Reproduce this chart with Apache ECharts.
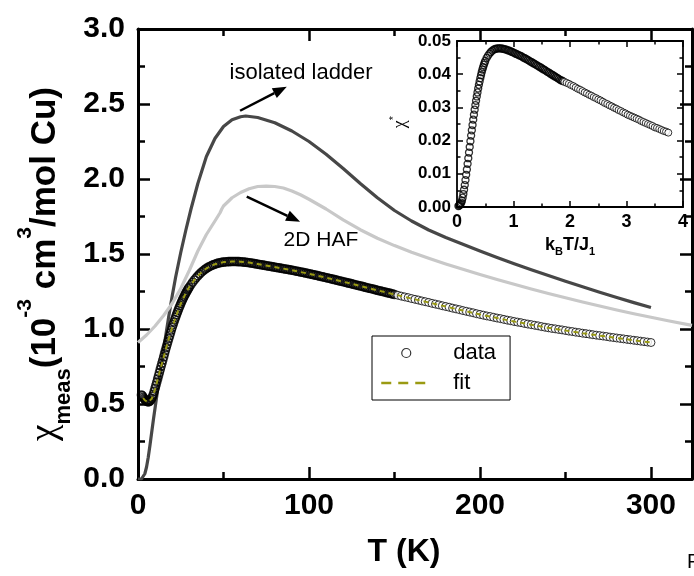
<!DOCTYPE html>
<html><head><meta charset="utf-8">
<script src="https://cdn.jsdelivr.net/npm/echarts@6/dist/echarts.min.js"></script>
<style>html,body{margin:0;padding:0;background:#fff}#c{width:694px;height:576px}</style>
</head><body><div id="c"></div>
<script>
const FONT = "'Liberation Sans', Arial, sans-serif";

// ---- main panel: measured susceptibility (10^-3 cm^3/mol Cu) vs T (K) ----
const dataT = [
  2,2.5,3,3.5,4,4.5,5,5.5,6,6.5,7,7.5,8,8.5,9,9.5,10,10.5,11,11.5,
  12,12.5,13,13.5,14,14.5,15,15.5,16,16.5,17,17.5,18,18.5,19,19.5,20,20.5,21,21.5,
  22,22.5,23,23.5,24,24.5,25,25.5,26,26.5,27,27.5,28,28.5,29,29.5,30,
  31,32,33,34,35,36,37,38,39,40,
  41,42,43,44,45,46,47,48,49,50,
  51,52,53,54,55,56,57,58,59,60,
  61,62,63,64,65,66,67,68,69,70,
  71,72,73,74,75,76,77,78,79,80,
  81,82,83,84,85,86,87,88,89,90,
  91,92,93,94,95,96,97,98,99,100,
  101,102,103,104,105,106,107,108,109,110,
  111,112,113,114,115,116,117,118,119,120,
  121,122,123,124,125,126,127,128,129,130,
  131,132,133,134,135,136,137,138,139,140,
  141,142,143,144,145,146,147,148,149,150,
  152,154,156,158,160,162,164,166,168,170,
  172,174,176,178,180,182,184,186,188,190,
  192,194,196,198,200,202,204,206,208,210,
  212,214,216,218,220,222,224,226,228,230,
  232,234,236,238,240,242,244,246,248,250,
  252,254,256,258,260,262,264,266,268,270,
  272,274,276,278,280,282,284,286,288,290,
  292,294,296,298,300
];
const dataChi = [
  0.56,0.555,0.545,0.537,0.53,0.524,0.519,0.516,0.515,0.516,0.52,0.527,0.537,0.55,0.565,0.585,0.605,0.625,0.646,0.667,
  0.688,0.709,0.73,0.751,0.772,0.793,0.814,0.835,0.856,0.876,0.896,0.916,0.936,0.955,0.974,0.993,1.011,1.029,1.046,1.063,
  1.079,1.095,1.11,1.125,1.14,1.154,1.168,1.181,1.194,1.206,1.218,1.229,1.24,1.25,1.26,1.27,1.279,
  1.296,1.312,1.327,1.341,1.354,1.366,1.377,1.387,1.396,1.404,
  1.411,1.417,1.423,1.428,1.432,1.436,1.439,1.442,1.444,1.446,
  1.447,1.448,1.449,1.449,1.45,1.45,1.45,1.449,1.449,1.448,
  1.447,1.446,1.445,1.443,1.442,1.44,1.438,1.436,1.434,1.432,
  1.43,1.428,1.426,1.424,1.422,1.42,1.418,1.416,1.414,1.412,
  1.41,1.408,1.406,1.404,1.402,1.4,1.398,1.396,1.394,1.392,
  1.39,1.387,1.385,1.383,1.38,1.378,1.376,1.373,1.371,1.368,
  1.366,1.363,1.361,1.358,1.356,1.353,1.35,1.348,1.345,1.342,
  1.34,1.337,1.334,1.331,1.329,1.326,1.323,1.32,1.318,1.315,
  1.312,1.309,1.306,1.304,1.301,1.298,1.295,1.292,1.289,1.287,
  1.284,1.281,1.278,1.275,1.272,1.27,1.267,1.264,1.261,1.258,
  1.255,1.253,1.25,1.247,1.244,1.241,1.239,1.236,1.233,1.23,
  1.225,1.219,1.214,1.209,1.203,1.198,1.193,1.187,1.182,1.177,
  1.171,1.166,1.161,1.155,1.15,1.145,1.139,1.134,1.129,1.123,
  1.118,1.113,1.108,1.102,1.097,1.092,1.087,1.083,1.078,1.073,
  1.069,1.064,1.059,1.055,1.05,1.046,1.042,1.037,1.033,1.029,
  1.025,1.021,1.016,1.012,1.008,1.004,1.001,0.997,0.994,0.99,
  0.986,0.983,0.979,0.976,0.972,0.969,0.966,0.962,0.959,0.956,
  0.953,0.95,0.946,0.943,0.94,0.937,0.934,0.931,0.928,0.925,
  0.922,0.919,0.916,0.913,0.91
];
const denseLimitT = 150;   // measurement is dense up to here, sparse above
const fitT = [3,4,5,6,7,8,9,10,11,12,13,14,15,16,17,18,19,20,22,24,26,28,30,33,36,40,45,50,55,60,65,70,
  80,90,100,110,120,130,140,150,160,170,180,190,200,210,220,230,240,250,260,270,280,290,300];
const fitChi = [0.54,0.525,0.515,0.512,0.518,0.535,0.563,0.6,0.642,0.685,0.728,0.77,0.812,0.854,0.895,0.935,0.973,1.01,
  1.078,1.139,1.193,1.24,1.28,1.327,1.366,1.404,1.432,1.446,1.45,1.449,1.443,1.433,
  1.413,1.392,1.368,1.342,1.315,1.287,1.258,1.23,1.203,1.177,1.15,1.123,1.097,1.073,1.05,1.029,1.008,0.99,0.972,0.956,0.94,0.925,0.91];
const ladderT = [0,2,3,4,5,6,7,8,9,10,12,14,16,18,20,22,25,28,31,35,40,45,50,55,60,63,70,80,90,100,
  110,120,130,140,150,160,170,180,190,200,210,220,230,240,250,260,270,280,290,300];
const ladderChi = [0,0,0.01,0.035,0.08,0.145,0.225,0.31,0.395,0.475,0.635,0.79,0.94,1.085,1.22,1.345,1.51,1.66,1.80,1.97,
  2.15,2.27,2.35,2.395,2.415,2.42,2.41,2.375,2.32,2.25,2.165,2.07,1.97,1.875,1.79,1.72,1.66,1.61,1.565,1.52,
  1.477,1.435,1.395,1.356,1.318,1.281,1.245,1.21,1.176,1.143];
const hafT = [0,5,10,15,20,25,30,35,40,45,48,49,50,55,60,65,70,75,80,85,90,95,100,110,120,130,140,150,160,170,
  180,190,200,210,220,230,240,250,260,270,280,290,300,310,324];
const hafChi = [0.91,0.96,1.02,1.09,1.17,1.27,1.39,1.52,1.63,1.72,1.775,1.80,1.82,1.875,1.91,1.935,1.95,1.953,1.95,1.94,
  1.92,1.895,1.865,1.80,1.728,1.662,1.605,1.556,1.512,1.472,1.434,1.398,1.363,1.33,1.298,1.267,1.237,1.208,1.18,1.153,
  1.127,1.102,1.078,1.055,1.024];

// ---- inset: chi* vs kB T / J1 ----
const insetX = [
  0.025,0.0375,0.05,0.0625,0.075,0.0875,0.1,0.1125,0.125,0.1375,0.15,0.1625,0.175,0.1875,0.2,0.2125,0.225,0.2375,0.25,0.2625,
  0.275,0.2875,0.3,0.3125,0.325,0.3375,0.35,0.3625,0.375,0.3875,0.4,0.4125,0.425,0.4375,0.45,0.4625,0.475,0.4875,0.5,
  0.525,0.55,0.575,0.6,0.625,0.65,0.675,0.7,0.725,0.75,0.775,0.8,0.825,0.85,0.875,0.9,0.925,0.95,0.975,1.0,
  1.025,1.05,1.075,1.1,1.125,1.15,1.175,1.2,1.225,1.25,1.275,1.3,1.325,1.35,1.375,1.4,1.425,1.45,1.475,1.5,
  1.525,1.55,1.575,1.6,1.625,1.65,1.675,1.7,1.725,1.75,1.775,1.8,1.825,1.85,1.875,
  1.9,1.94,1.98,2.02,2.06,2.1,2.14,2.18,2.22,2.26,2.3,2.34,2.38,2.42,2.46,2.5,2.54,2.58,2.62,2.66,
  2.7,2.74,2.78,2.82,2.86,2.9,2.94,2.98,3.02,3.06,3.1,3.14,3.18,3.22,3.26,3.3,3.34,3.38,3.42,3.46,
  3.5,3.54,3.58,3.62,3.66,3.7,3.74
];
const insetY = [
  0.0003,0.0004,0.0006,0.0009,0.0013,0.0019,0.0028,0.0039,0.0052,0.0066,0.0081,0.0097,0.0113,0.013,0.0147,0.0164,0.0181,0.0198,0.0215,0.0231,
  0.0247,0.0263,0.0278,0.0293,0.0307,0.032,0.0333,0.0345,0.0357,0.0368,0.0378,0.0388,0.0397,0.0406,0.0414,0.0421,0.0428,0.0434,0.044,
  0.0449,0.0456,0.0462,0.0467,0.0471,0.0474,0.0476,0.0477,0.0478,0.0478,0.0478,0.0477,0.0476,0.0475,0.0474,0.0472,0.0471,0.0469,0.0467,0.0465,
  0.0463,0.0461,0.0459,0.0457,0.0455,0.0453,0.045,0.0448,0.0446,0.0443,0.0441,0.0438,0.0436,0.0433,0.0431,0.0428,0.0426,0.0423,0.0421,0.0418,
  0.0415,0.0413,0.041,0.0407,0.0405,0.0402,0.0399,0.0397,0.0394,0.0391,0.0389,0.0386,0.0383,0.0381,0.0379,
  0.0377,0.0374,0.0371,0.0367,0.0364,0.036,0.0356,0.0353,0.0349,0.0345,0.0342,0.0338,0.0335,0.0331,0.0328,0.0324,0.0321,0.0317,0.0313,0.031,
  0.0306,0.0303,0.0299,0.0296,0.0292,0.0289,0.0285,0.0282,0.0278,0.0275,0.0272,0.0269,0.0266,0.0263,0.0259,0.0256,0.0253,0.025,0.0247,0.0244,
  0.024,0.0238,0.0235,0.0232,0.0229,0.0227,0.0224
];
const insetDenseLimit = 1.875;

// axis ranges / tick steps
const mainX = {min: 0, max: 324, step: 100};
const mainY = {min: 0, max: 3, step: 0.5};
const insX = {min: 0, max: 4, step: 1};
const insY = {min: 0, max: 0.05, step: 0.01};

const zip = (a, b) => a.map((v, i) => [v, b[i]]);
const mainPts = zip(dataT, dataChi);
const insetPts = zip(insetX, insetY);
const chart = echarts.init(document.getElementById('c'), null, {renderer: 'canvas'});

function axis(kind, grid, r, pos, showLabel, big, fmt) {
  const lw = big ? 3 : 1.8;
  return {
    type: 'value', gridIndex: grid, position: pos, min: r.min, max: r.max, interval: r.step,
    axisLine: {show: true, onZero: false, lineStyle: {color: '#000', width: lw}},
    axisTick: {show: true, inside: true, length: big ? 12 : 6, lineStyle: {color: '#000', width: big ? 2.5 : 1.5}},
    minorTick: {show: true, splitNumber: 2, length: big ? 7 : 3.5, lineStyle: {color: '#000', width: big ? 2.5 : 1.5}},
    splitLine: {show: false},
    axisLabel: {
      show: showLabel, color: '#000', fontFamily: FONT, fontWeight: 'bold',
      fontSize: big ? 30 : (kind === 'x' ? 18 : 17),
      margin: big ? (kind === 'x' ? 12 : 13) : 6,
      showMaxLabel: (kind === 'x' && big) ? false : true,
      formatter: fmt
    }
  };
}

const ringMain = {color: 'rgba(0,0,0,0)', borderColor: '#000', borderWidth: 1.6};
const ringInset = {color: 'rgba(0,0,0,0)', borderColor: '#000', borderWidth: 1.3};
const disc = {color: '#fff', borderColor: '#000', borderWidth: 1};

const option = {
  animation: false,
  backgroundColor: '#fff',
  grid: [
    {left: 138, top: 29, width: 554, height: 450},
    {left: 457, top: 41, width: 226, height: 166}
  ],
  xAxis: [
    axis('x', 0, mainX, 'bottom', true, true, v => String(v)),
    axis('x', 0, mainX, 'top', false, true),
    axis('x', 1, insX, 'bottom', true, false, v => String(v)),
    axis('x', 1, insX, 'top', false, false)
  ],
  yAxis: [
    axis('y', 0, mainY, 'left', true, true, v => v.toFixed(1)),
    axis('y', 0, mainY, 'right', false, true),
    axis('y', 1, insY, 'left', true, false, v => v.toFixed(2)),
    axis('y', 1, insY, 'right', false, false)
  ],
  legend: {
    data: [
      {name: 'data', icon: 'circle', itemStyle: {color: '#fff', borderColor: '#000', borderWidth: 1.2}},
      {name: 'fit', itemStyle: {opacity: 0}, lineStyle: {type: [10, 7], width: 2.5, color: '#9a9a12'}}
    ],
    orient: 'vertical', left: 372, top: 336,
    padding: [5, 14, 5, 8], itemWidth: 50, itemHeight: 9, itemGap: 6,
    borderColor: '#000', borderWidth: 1, borderRadius: 0, backgroundColor: '#fff',
    selectedMode: false,
    textStyle: {fontSize: 22, fontFamily: FONT, color: '#000', lineHeight: 24, padding: [0, 0, 0, 17]}
  },
  series: [
    {name: 'isolated ladder', type: 'line', xAxisIndex: 0, yAxisIndex: 0, data: zip(ladderT, ladderChi),
     symbol: 'none', smooth: false, lineStyle: {color: '#474747', width: 3.2, join: 'round'}, z: 2},
    {name: '2D HAF', type: 'line', xAxisIndex: 0, yAxisIndex: 0, data: zip(hafT, hafChi),
     symbol: 'none', smooth: false, lineStyle: {color: '#c8c8c8', width: 3.2, join: 'round'}, z: 2},
    {name: 'data', type: 'scatter', xAxisIndex: 0, yAxisIndex: 0, data: mainPts.filter(p => p[0] <= denseLimitT),
     symbol: 'circle', symbolSize: 8, itemStyle: ringMain, z: 3},
    {name: 'data', type: 'scatter', xAxisIndex: 0, yAxisIndex: 0, data: mainPts.filter(p => p[0] > denseLimitT),
     symbol: 'circle', symbolSize: 8, itemStyle: disc, z: 3},
    {name: 'fit', type: 'line', xAxisIndex: 0, yAxisIndex: 0, data: zip(fitT, fitChi),
     symbol: 'none', smooth: false, lineStyle: {color: '#9a9a12', width: 2, type: [5, 4]}, z: 4},
    {name: 'inset', type: 'scatter', xAxisIndex: 2, yAxisIndex: 2, data: insetPts.filter(p => p[0] <= insetDenseLimit),
     symbol: 'circle', symbolSize: 7, itemStyle: ringInset, z: 3},
    {name: 'inset', type: 'scatter', xAxisIndex: 2, yAxisIndex: 2, data: insetPts.filter(p => p[0] > insetDenseLimit),
     symbol: 'circle', symbolSize: 7, itemStyle: disc, z: 3}
  ]
};
chart.setOption(option);

// annotations placed in data coordinates of the main panel
const P = (x, y) => chart.convertToPixel({gridIndex: 0}, [x, y]);
function arrow(from, to) {
  const a = P(from[0], from[1]), b = P(to[0], to[1]);
  const dx = b[0] - a[0], dy = b[1] - a[1], L = Math.hypot(dx, dy);
  const ux = dx / L, uy = dy / L, hl = 14, hw = 5.5;
  const base = [b[0] - ux * hl, b[1] - uy * hl];
  return [
    {type: 'line', shape: {x1: a[0], y1: a[1], x2: base[0], y2: base[1]}, style: {stroke: '#000', lineWidth: 2.5}, z: 10},
    {type: 'polygon', shape: {points: [b, [base[0] - uy * hw, base[1] + ux * hw], [base[0] + uy * hw, base[1] - ux * hw]]},
     style: {fill: '#000'}, z: 10}
  ];
}
function label(txt, at, size) {
  const p = P(at[0], at[1]);
  return {type: 'text', x: p[0], y: p[1], z: 10,
    style: {text: txt, fill: '#000', font: size + 'px ' + FONT, align: 'center', verticalAlign: 'middle',
            textAlign: 'center', textVerticalAlign: 'middle'}};
}
const graphics = [].concat(
  arrow([59.7, 2.455], [87, 2.615]),
  arrow([63.6, 1.882], [94.8, 1.715]),
  [label('isolated ladder', [95.4, 2.707], 22), label('2D HAF', [107, 1.593], 21)],
  [
    {type: 'text', x: 45, y: 264, rotation: Math.PI / 2, z: 10,
     style: {
       text: '{c|χ}{sub|meas}{b|(10}{sup|-3}{b| cm}{sup|3}{b|/mol Cu)}',
       align: 'center', verticalAlign: 'middle', textAlign: 'center', textVerticalAlign: 'middle',
       rich: {
         c: {fontSize: 37, fontFamily: "'Liberation Serif', serif", fill: '#000', lineHeight: 60},
         b: {fontSize: 35, fontFamily: FONT, fontWeight: 'bold', fill: '#000', lineHeight: 60},
         sub: {fontSize: 22, fontFamily: FONT, fontWeight: 'bold', fill: '#000', lineHeight: 48, verticalAlign: 'bottom'},
         sup: {fontSize: 21, fontFamily: FONT, fontWeight: 'bold', fill: '#000', lineHeight: 12, verticalAlign: 'top'}
       }
     }},
    {type: 'text', x: 404, y: 552, z: 10,
     style: {text: 'T (K)', font: 'bold 32px ' + FONT, fill: '#000', align: 'center', verticalAlign: 'middle',
             textAlign: 'center', textVerticalAlign: 'middle'}},
    {type: 'text', x: 570, y: 245, z: 10,
     style: {
       text: '{b|k}{s|B}{b|T/J}{s|1}', align: 'center', verticalAlign: 'middle', textAlign: 'center', textVerticalAlign: 'middle',
       rich: {
         b: {fontSize: 18, fontFamily: FONT, fontWeight: 'bold', fill: '#000', lineHeight: 24},
         s: {fontSize: 11, fontFamily: FONT, fontWeight: 'bold', fill: '#000', lineHeight: 12, verticalAlign: 'bottom'}
       }
     }},
    {type: 'text', x: 400, y: 122, rotation: Math.PI / 2, z: 10,
     style: {
       text: '{c|χ}{s|*}', align: 'center', verticalAlign: 'middle', textAlign: 'center', textVerticalAlign: 'middle',
       rich: {
         c: {fontSize: 18, fontFamily: "'Liberation Serif', serif", fill: '#000', lineHeight: 24},
         s: {fontSize: 11, fontFamily: FONT, fill: '#000', lineHeight: 10, verticalAlign: 'top'}
       }
     }},
    {type: 'text', x: 687, y: 562, z: 10,
     style: {text: 'F', font: '20px ' + FONT, fill: '#000', align: 'left', verticalAlign: 'middle',
             textAlign: 'left', textVerticalAlign: 'middle'}}
  ]
);
chart.setOption({graphic: graphics});
</script>
</body></html>
